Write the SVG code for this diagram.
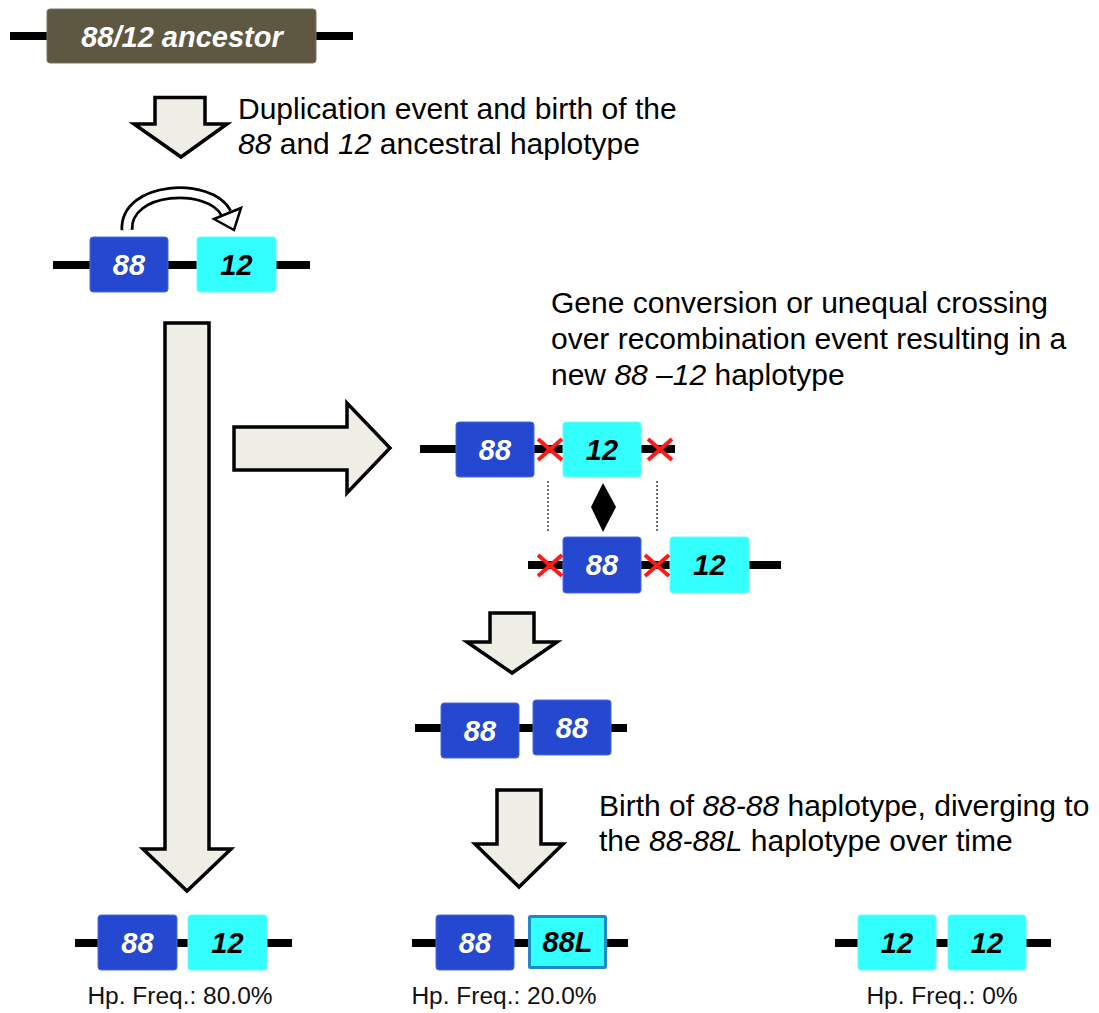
<svg xmlns="http://www.w3.org/2000/svg" width="1099" height="1013" viewBox="0 0 1099 1013">
  <style>
    .dna { stroke: #000; stroke-width: 8; }
    .g88 { fill: #2448cf; stroke: #4b6ae0; stroke-width: 1; }
    .g12 { fill: #33ffff; stroke: #6ff; stroke-width: 1; }
    .g88L { fill: #33ffff; stroke: #1f8ac6; stroke-width: 3; }
    .lbl { font-family: "Liberation Sans", Arial, sans-serif; font-size: 29px; font-weight: bold; font-style: italic; text-anchor: middle; }
    .w { fill: #fff; }
    .k { fill: #000; }
    .big { font-family: "Liberation Sans", Arial, sans-serif; font-size: 30px; fill: #000; }
    .freq { font-family: "Liberation Sans", Arial, sans-serif; font-size: 24.5px; fill: #111; text-anchor: middle; }
    .it { font-style: italic; }
    .blk { fill: #eeeee6; stroke: #000; stroke-width: 3.5; stroke-linejoin: miter; }
    .cut { stroke: #ff1a1a; stroke-width: 4; }
    .dot { stroke: #444; stroke-width: 1.5; stroke-dasharray: 2 2; }
  </style>

  <!-- ancestral locus -->
  <g id="ancestor">
    <line class="dna" x1="10" y1="36" x2="353" y2="36"/>
    <rect x="47" y="9" width="269" height="54" rx="3" fill="#5e5842" stroke="#7a7460" stroke-width="1"/>
    <text class="lbl w" x="182" y="47">88/12 ancestor</text>
  </g>

  <!-- block arrows -->
  <g id="connectors">
    <path class="blk" d="M155,97.5 H205 V124 H227 L181,157 L134,124 H155 Z"/>
    <path class="blk" d="M165,323 H209 V849 H231 L187,891 L143,849 H165 Z"/>
    <path class="blk" d="M234,427 H347 V403 L390,448 L347,493 V470 H234 Z"/>
    <path class="blk" d="M490,613 H534 V642 H557 L512,673 L467,642 H490 Z"/>
    <path class="blk" d="M497,790 H541 V844 H563 L519,887 L475,844 H497 Z"/>
    <!-- curved duplication arrow -->
    <path d="M127,230 C125,186 210,182 226,213" fill="none" stroke="#000" stroke-width="13"/>
    <path d="M127,230 C125,186 210,182 226,213" fill="none" stroke="#fff" stroke-width="7.5"/>
    <path d="M214,219 L241,208 L234,230 Z" fill="#fff" stroke="#000" stroke-width="2.5" stroke-linejoin="miter"/>
    <!-- dotted alignment guides and exchange marker -->
    <line class="dot" x1="548" y1="481" x2="548" y2="533"/>
    <line class="dot" x1="657" y1="481" x2="657" y2="533"/>
    <path d="M603,483 L616,507 L603,532 L591,507 Z" fill="#000"/>
  </g>

  <text class="big" x="238" y="119">Duplication event and birth of the</text>
  <text class="big" x="238" y="154"><tspan class="it">88</tspan> and <tspan class="it">12</tspan> ancestral haplotype</text>

  <!-- 88-12 ancestral haplotype -->
  <g id="hap-88-12">
    <line class="dna" x1="53" y1="265" x2="310" y2="265"/>
    <rect class="g88" x="90" y="237" width="78" height="55" rx="3"/>
    <text class="lbl w" x="129" y="275">88</text>
    <rect class="g12" x="197" y="237" width="79" height="55" rx="3"/>
    <text class="lbl k" x="236.5" y="275">12</text>
  </g>

  <text class="big" x="551" y="313">Gene conversion or unequal crossing</text>
  <text class="big" x="551" y="349">over recombination event resulting in a</text>
  <text class="big" x="551" y="385">new <tspan class="it">88 –12</tspan> haplotype</text>

  <!-- misaligned pairing, upper strand -->
  <g id="strand-upper">
    <line class="dna" x1="420" y1="449" x2="675" y2="449"/>
    <rect class="g88" x="456" y="422" width="78" height="55" rx="3"/>
    <text class="lbl w" x="495" y="460">88</text>
    <rect class="g12" x="563" y="422" width="78" height="55" rx="3"/>
    <text class="lbl k" x="602" y="460">12</text>
    <line class="cut" x1="538" y1="439" x2="562" y2="460"/>
    <line class="cut" x1="538" y1="460" x2="562" y2="439"/>
    <line class="cut" x1="648" y1="439" x2="672" y2="460"/>
    <line class="cut" x1="648" y1="460" x2="672" y2="439"/>
  </g>

  <!-- misaligned pairing, lower strand -->
  <g id="strand-lower">
    <line class="dna" x1="528" y1="565" x2="781" y2="565"/>
    <rect class="g88" x="563" y="537" width="78" height="56" rx="3"/>
    <text class="lbl w" x="602" y="575">88</text>
    <rect class="g12" x="670" y="537" width="79" height="56" rx="3"/>
    <text class="lbl k" x="709.5" y="575">12</text>
    <line class="cut" x1="538" y1="555" x2="562" y2="576"/>
    <line class="cut" x1="538" y1="576" x2="562" y2="555"/>
    <line class="cut" x1="645" y1="555" x2="669" y2="576"/>
    <line class="cut" x1="645" y1="576" x2="669" y2="555"/>
  </g>

  <!-- 88-88 duplicate -->
  <g id="hap-88-88">
    <line class="dna" x1="415" y1="728" x2="627" y2="728"/>
    <rect class="g88" x="441" y="703" width="78" height="55" rx="3"/>
    <text class="lbl w" x="480" y="741">88</text>
    <rect class="g88" x="533" y="700" width="78" height="55" rx="3"/>
    <text class="lbl w" x="572" y="738">88</text>
  </g>

  <text class="big" x="599" y="816">Birth of <tspan class="it">88-88</tspan> haplotype, diverging to</text>
  <text class="big" x="599" y="851">the <tspan class="it">88-88L</tspan> haplotype over time</text>

  <!-- present-day haplotypes -->
  <g id="final-88-12">
    <line class="dna" x1="75" y1="943" x2="292" y2="943"/>
    <rect class="g88" x="98" y="915" width="79" height="55" rx="3"/>
    <text class="lbl w" x="137.5" y="953">88</text>
    <rect class="g12" x="188" y="915" width="79" height="55" rx="3"/>
    <text class="lbl k" x="227.5" y="953">12</text>
    <text class="freq" x="180" y="1004">Hp. Freq.: 80.0%</text>
  </g>

  <g id="final-88-88L">
    <line class="dna" x1="412" y1="943" x2="628" y2="943"/>
    <rect class="g88" x="436" y="915" width="78" height="55" rx="3"/>
    <text class="lbl w" x="475" y="953">88</text>
    <rect class="g88L" x="529.5" y="916.5" width="76" height="51" rx="1"/>
    <text class="lbl k" x="567.5" y="952" font-size="27">88L</text>
    <text class="freq" x="504" y="1004">Hp. Freq.: 20.0%</text>
  </g>

  <g id="final-12-12">
    <line class="dna" x1="835" y1="943" x2="1051" y2="943"/>
    <rect class="g12" x="858" y="915" width="78" height="55" rx="3"/>
    <text class="lbl k" x="897" y="953">12</text>
    <rect class="g12" x="948" y="915" width="78" height="55" rx="3"/>
    <text class="lbl k" x="987" y="953">12</text>
    <text class="freq" x="942" y="1004">Hp. Freq.: 0%</text>
  </g>
</svg>
